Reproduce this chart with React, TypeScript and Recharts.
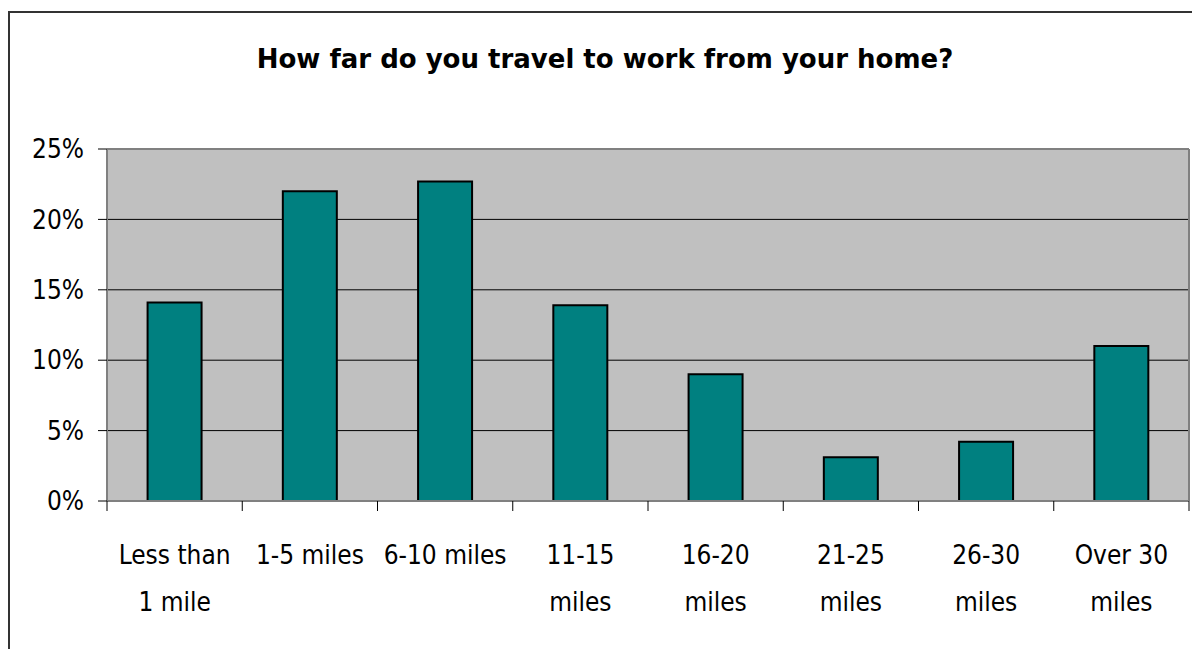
import React from "react";
import {
  BarChart,
  Bar,
  XAxis,
  YAxis,
  CartesianGrid,
} from "recharts";

const CATEGORIES = [
  "Less than 1 mile",
  "1-5 miles",
  "6-10 miles",
  "11-15 miles",
  "16-20 miles",
  "21-25 miles",
  "26-30 miles",
  "Over 30 miles",
];

// label lines as they wrap in the original
const LABEL_LINES = [
  ["Less than", "1 mile"],
  ["1-5 miles"],
  ["6-10 miles"],
  ["11-15", "miles"],
  ["16-20", "miles"],
  ["21-25", "miles"],
  ["26-30", "miles"],
  ["Over 30", "miles"],
];

const SHARE = [14.1, 22.0, 22.7, 13.9, 9.0, 3.1, 4.2, 11.0];

const Y_TICKS = [0, 5, 10, 15, 20, 25];

const data = CATEGORIES.map((name, i) => ({ name, share: SHARE[i] }));

const FONT = "'Liberation Sans Narrow', 'DejaVu Sans Condensed', sans-serif";
const TICK = 10;

// category label plus tick marks on the band edges (Excel style)
function XTick(props: any) {
  const { x, y, payload, width } = props;
  const lines = LABEL_LINES[payload.index] || [payload.value];
  const half =
    typeof payload.offset === "number" && payload.offset > 0
      ? payload.offset
      : width / CATEGORIES.length / 2;
  const axisY = y - TICK;
  const isLast = payload.index === CATEGORIES.length - 1;
  return (
    <g>
      <line x1={x - half} x2={x - half} y1={axisY} y2={axisY + TICK} stroke="#000" />
      {isLast && (
        <line x1={x + half} x2={x + half} y1={axisY} y2={axisY + TICK} stroke="#000" />
      )}
      {lines.map((line: string, i: number) => (
        <text
          key={i}
          x={x}
          y={y + 53 + i * 47}
          textAnchor="middle"
          fontFamily={FONT}
          fontSize={26}
          fill="#000"
        >
          {line}
        </text>
      ))}
    </g>
  );
}

export default function App() {
  return (
    <div
      style={{
        position: "relative",
        width: 1192,
        height: 638,
        marginTop: 3,
        borderTop: "2px solid #333",
        borderLeft: "2px solid #333",
        boxSizing: "border-box",
        background: "#fff",
      }}
    >
      <div
        style={{
          position: "absolute",
          top: 33,
          left: 0,
          width: 1190,
          textAlign: "center",
          fontFamily: "'DejaVu Sans', sans-serif",
          fontWeight: "bold",
          fontSize: 26,
          lineHeight: "26px",
          color: "#000",
        }}
      >
        How far do you travel to work from your home?
      </div>
      <BarChart
        width={1190}
        height={636}
        data={data}
        margin={{ top: 135, right: 10, bottom: 48, left: 0 }}
        barCategoryGap="30%"
      >
        <CartesianGrid
          vertical={false}
          stroke="#000"
          strokeWidth={1}
          fill="#C0C0C0"
          fillOpacity={1}
        />
        <XAxis
          dataKey="name"
          interval={0}
          height={100}
          tickSize={TICK}
          tickMargin={0}
          axisLine={{ stroke: "#808080", strokeWidth: 2 }}
          tickLine={false}
          tick={<XTick />}
        />
        <XAxis
          xAxisId="top"
          dataKey="name"
          orientation="top"
          height={1}
          tick={false}
          tickLine={false}
          axisLine={{ stroke: "#808080", strokeWidth: 2 }}
        />
        <YAxis
          width={97}
          domain={[0, 25]}
          ticks={Y_TICKS}
          tickFormatter={(v: number) => `${v}%`}
          tickSize={9}
          tickMargin={14}
          axisLine={{ stroke: "#808080", strokeWidth: 2 }}
          tickLine={{ stroke: "#000", strokeWidth: 1 }}
          tick={{ fontFamily: FONT, fontSize: 26, fill: "#000" }}
        />
        <YAxis
          yAxisId="right"
          orientation="right"
          width={1}
          domain={[0, 25]}
          tick={false}
          tickLine={false}
          axisLine={{ stroke: "#808080", strokeWidth: 2 }}
        />
        <Bar
          dataKey="share"
          fill="#008080"
          stroke="#000"
          strokeWidth={2}
          isAnimationActive={false}
        />
      </BarChart>
    </div>
  );
}
